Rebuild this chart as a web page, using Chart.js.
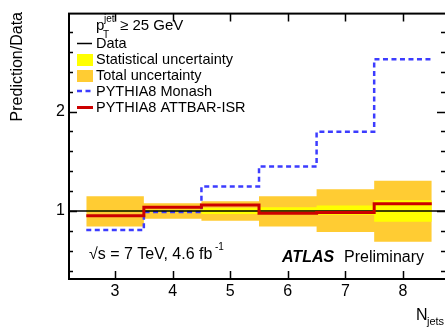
<!DOCTYPE html>
<html>
<head>
<meta charset="utf-8">
<script src="https://cdn.jsdelivr.net/npm/chart.js@4"></script>
<style>
  body { margin: 0; background: #fff; }
  canvas { display: block; }
</style>
</head>
<body>
<canvas id="ratio-chart" width="445" height="327"></canvas>
<script>
// Jet multiplicity bins and ratios to data
const nJets = [3, 4, 5, 6, 7, 8];
const totalUp = [1.147, 1.078, 1.098, 1.147, 1.218, 1.304];
const totalDown = [0.843, 0.922, 0.902, 0.843, 0.787, 0.690];
const statUp = [1.010, 1.012, 1.030, 1.038, 1.055, 1.108];
const statDown = [0.990, 0.988, 0.970, 0.968, 0.962, 0.892];
const monash = [0.807, 0.990, 1.245, 1.448, 1.797, 2.526];
const attbarIsr = [0.951, 1.036, 1.059, 0.977, 0.984, 1.072];
const dataRatio = 1;

const xTicks = [3, 4, 5, 6, 7, 8];
const yTicks = [1, 2];
const xMin = 2.2, xMax = 8.73;
const yMin = 0.315, yMax = 2.986;

const FONT = '"Liberation Sans", Arial, Helvetica, sans-serif';
const ORANGE = 'rgb(255,204,51)';
const YELLOW = 'rgb(255,255,0)';
const BLUE = 'rgb(60,60,255)';
const RED = 'rgb(204,0,0)';

// histogram outline: each bin drawn as a flat step from edge to edge
function histo(vals) {
    const pts = [];
    nJets.forEach((n, i) => {
        pts.push({x: n - 0.5, y: vals[i]});
        pts.push({x: n + 0.5, y: vals[i]});
    });
    return pts;
}

const lineBase = {pointRadius: 0, tension: 0, fill: false};

const frameAndText = {
    id: 'frameAndText',
    afterDraw(chart) {
        const c = chart.ctx;
        const a = chart.chartArea;
        const xs = chart.scales.x, ys = chart.scales.y;
        c.save();

        // frame
        c.strokeStyle = '#000';
        c.lineWidth = 2;
        c.strokeRect(a.left, a.top, a.right - a.left + 2, a.bottom - a.top);

        // inward ticks
        c.lineWidth = 1.5;
        c.beginPath();
        xTicks.forEach(v => {
            const px = Math.round(xs.getPixelForValue(v)) + 0.5;
            c.moveTo(px, a.bottom); c.lineTo(px, a.bottom - 8);
            c.moveTo(px, a.top); c.lineTo(px, a.top + 8);
        });
        for (let k = 2; k <= 14; k++) {
            const v = k / 5;
            const len = (k % 5 === 0) ? 8 : 4;
            const py = Math.round(ys.getPixelForValue(v)) + 0.5;
            c.moveTo(a.left, py); c.lineTo(a.left + len, py);
            c.moveTo(a.right, py); c.lineTo(a.right - len, py);
        }
        c.stroke();

        // legend
        const lx = 77, tx = 96;
        c.fillStyle = '#000';
        c.textBaseline = 'alphabetic';
        c.textAlign = 'left';
        c.font = '15px ' + FONT;
        c.fillText('p', tx, 30);
        c.font = '10px ' + FONT;
        c.fillText('jet', 104, 22);
        c.fillText('T', 103, 38);
        c.font = '15px ' + FONT;
        c.fillText('\u2265 25 GeV', 120, 30);

        c.font = '14.5px ' + FONT;
        c.fillText('Data', tx, 48);
        c.fillText('Statistical uncertainty', tx, 64);
        c.fillText('Total uncertainty', tx, 80);
        c.fillText('PYTHIA8 Monash', tx, 96);
        c.fillText('PYTHIA8 ATTBAR-ISR', tx, 112);

        c.strokeStyle = '#000';
        c.lineWidth = 1.5;
        c.beginPath(); c.moveTo(lx, 43.5); c.lineTo(lx + 15, 43.5); c.stroke();
        c.fillStyle = YELLOW; c.fillRect(lx, 54, 16, 12);
        c.fillStyle = ORANGE; c.fillRect(lx, 70, 16, 12);
        c.strokeStyle = BLUE; c.lineWidth = 2.5; c.setLineDash([5, 3.5]);
        c.beginPath(); c.moveTo(lx, 91); c.lineTo(lx + 16, 91); c.stroke();
        c.setLineDash([]);
        c.strokeStyle = RED; c.lineWidth = 3;
        c.beginPath(); c.moveTo(lx, 107.5); c.lineTo(lx + 16, 107.5); c.stroke();

        // energy / luminosity
        c.fillStyle = '#000';
        c.font = '16px ' + FONT;
        c.fillText('\u221As = 7 TeV, 4.6 fb', 89, 259);
        c.font = '10px ' + FONT;
        c.fillText('-1', 215, 250);

        // ATLAS label
        c.font = 'italic bold 16px ' + FONT;
        c.fillText('ATLAS', 282, 262);
        c.font = '16px ' + FONT;
        c.fillText('Preliminary', 344, 262);

        // axis titles
        c.fillText('N', 416, 320);
        c.font = '11px ' + FONT;
        c.fillText('jets', 427, 325);
        c.font = '16px ' + FONT;
        c.translate(22, 12);
        c.rotate(-Math.PI / 2);
        c.textAlign = 'right';
        c.fillText('Prediction/Data', 0, 0);
        c.restore();
    }
};

const ctx = document.getElementById('ratio-chart').getContext('2d');
const ratioChart = new Chart(ctx, {
    type: 'line',
    data: {
        datasets: [
            {...lineBase, label: 'PYTHIA8 ATTBAR-ISR', data: histo(attbarIsr),
                borderColor: RED, borderWidth: 3},
            {...lineBase, label: 'Data', data: [{x: xMin, y: dataRatio}, {x: xMax, y: dataRatio}],
                borderColor: '#000', borderWidth: 1.5},
            {...lineBase, label: 'PYTHIA8 Monash', data: histo(monash),
                borderColor: BLUE, borderWidth: 2.5, borderDash: [5, 3.5]},
            {...lineBase, label: 'Statistical uncertainty', data: histo(statUp),
                borderWidth: 0, borderColor: 'rgba(0,0,0,0)', backgroundColor: YELLOW, fill: '+1'},
            {...lineBase, label: 'stat low', data: histo(statDown),
                borderWidth: 0, borderColor: 'rgba(0,0,0,0)'},
            {...lineBase, label: 'Total uncertainty', data: histo(totalUp),
                borderWidth: 0, borderColor: 'rgba(0,0,0,0)', backgroundColor: ORANGE, fill: '+1'},
            {...lineBase, label: 'total low', data: histo(totalDown),
                borderWidth: 0, borderColor: 'rgba(0,0,0,0)'}
        ]
    },
    options: {
        responsive: false,
        animation: false,
        devicePixelRatio: 1,
        layout: {padding: {top: 6, right: 0, left: 0, bottom: 0}},
        plugins: {
            legend: {display: false},
            tooltip: {enabled: false}
        },
        scales: {
            x: {
                type: 'linear',
                min: xMin,
                max: xMax,
                grid: {display: false, drawTicks: false},
                border: {display: false},
                afterBuildTicks: s => { s.ticks = xTicks.map(v => ({value: v})); },
                afterFit: s => { s.height = 48; },
                ticks: {
                    padding: 3,
                    color: '#000',
                    font: {family: FONT, size: 16},
                    callback: v => String(v)
                }
            },
            y: {
                type: 'linear',
                min: yMin,
                max: yMax,
                grid: {display: false, drawTicks: false},
                border: {display: false},
                afterBuildTicks: s => { s.ticks = yTicks.map(v => ({value: v})); },
                afterFit: s => { s.width = 69; },
                ticks: {
                    padding: 4,
                    color: '#000',
                    font: {family: FONT, size: 16},
                    callback: v => String(v)
                }
            }
        }
    },
    plugins: [frameAndText]
});
</script>
</body>
</html>
